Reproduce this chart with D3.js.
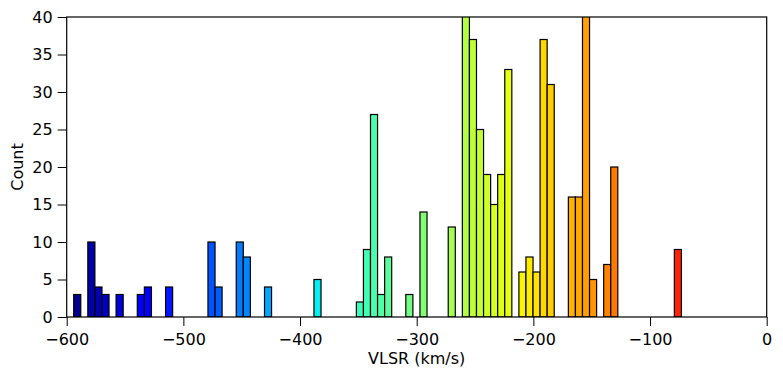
<!DOCTYPE html>
<meta charset="utf-8">
<style>
  body { margin: 0; background: #fff; }
  text { font-family: "DejaVu Sans", sans-serif; fill: #000; }
  .bar { stroke: #000; stroke-width: 1.2px; }
  .axis path { display: none; }
  .axis line { stroke: #000; stroke-width: 1px; }
  .axis text { font-size: 16px; }
</style>

<body>
  <script src="https://cdn.jsdelivr.net/npm/d3@7"></script>
  <script>
    // histogram: equal-width bins starting at binStart (km/s)
    var binStart = -594.0;
    var binWidth = 6.057;
    var counts = [
      3, 0, 10, 4, 3, 0, 3, 0, 0, 3,
      4, 0, 0, 4, 0, 0, 0, 0, 0, 10,
      4, 0, 0, 10, 8, 0, 0, 4, 0, 0,
      0, 0, 0, 0, 5, 0, 0, 0, 0, 0,
      2, 9, 27, 3, 8, 0, 0, 3, 0, 14,
      0, 0, 0, 12, 0, 42, 37, 25, 19, 15,
      19, 33, 0, 6, 8, 6, 37, 31, 0, 0,
      16, 16, 45, 5, 0, 7, 20, 0, 0, 0,
      0, 0, 0, 0, 0, 9
    ];
    var xTicks = [-600, -500, -400, -300, -200, -100, 0];
    var yTicks = [0, 5, 10, 15, 20, 25, 30, 35, 40];

    var margin = {top: 17, right: 16.3, bottom: 60, left: 66.7},
      width = 783 - margin.left - margin.right,
      height = 377 - margin.top - margin.bottom;

    var svg = d3.select("body").append("svg")
      .attr("width", 783)
      .attr("height", 377);
    var g = svg.append("g")
      .attr("transform", "translate(" + margin.left + "," + margin.top + ")");

    var x = d3.scaleLinear().domain([-600, 0]).range([0, width]);
    var y = d3.scaleLinear().domain([0, 40]).range([height, 0]);

    // jet colormap, piecewise per channel
    var jetR = d3.scaleLinear().domain([0, 0.35, 0.66, 0.89, 1]).range([0, 0, 1, 1, 0.5]);
    var jetG = d3.scaleLinear().domain([0, 0.125, 0.375, 0.64, 0.91, 1]).range([0, 0, 1, 1, 0, 0]);
    var jetB = d3.scaleLinear().domain([0, 0.11, 0.34, 0.65, 1]).range([0.5, 1, 1, 0, 0]);
    var norm = d3.scaleLinear().domain([-600, 0]).range([0, 1]).clamp(true);
    function jet(v) {
      var t = norm(v);
      return d3.rgb(jetR(t) * 255, jetG(t) * 255, jetB(t) * 255).formatHex();
    }

    svg.append("defs").append("clipPath").attr("id", "plot")
      .append("rect").attr("width", width).attr("height", height);

    var bins = counts.map(function (c, i) {
      var x0 = binStart + i * binWidth;
      return {x0: x0, x1: x0 + binWidth, count: c};
    }).filter(function (d) { return d.count > 0; });

    g.append("g").attr("clip-path", "url(#plot)")
      .selectAll(".bar")
      .data(bins)
      .enter().append("rect")
      .attr("class", "bar")
      .attr("x", function (d) { return x(d.x0); })
      .attr("width", function (d) { return x(d.x1) - x(d.x0); })
      .attr("y", function (d) { return y(d.count); })
      .attr("height", function (d) { return y(0) - y(d.count); })
      .attr("fill", function (d) { return jet((d.x0 + d.x1) / 2); });

    g.append("g").attr("class", "axis")
      .attr("transform", "translate(0," + height + ")")
      .call(d3.axisBottom(x).tickValues(xTicks).tickSize(9).tickPadding(8)
        .tickFormat(function (d) { return d3.format("d")(d).replace("-", "\u2212"); }));

    g.append("g").attr("class", "axis")
      .call(d3.axisLeft(y).tickValues(yTicks).tickSize(9).tickPadding(5));

    // frame
    g.append("rect")
      .attr("width", width).attr("height", height)
      .attr("fill", "none").attr("stroke", "#000").attr("stroke-width", 1.2);

    svg.append("text")
      .attr("x", margin.left + width / 2).attr("y", 364)
      .attr("text-anchor", "middle").style("font-size", "16px")
      .text("VLSR (km/s)");

    svg.append("text")
      .attr("transform", "translate(23," + (margin.top + height / 2) + ") rotate(-90)")
      .attr("text-anchor", "middle").style("font-size", "16px")
      .text("Count");
  </script>
</body>
